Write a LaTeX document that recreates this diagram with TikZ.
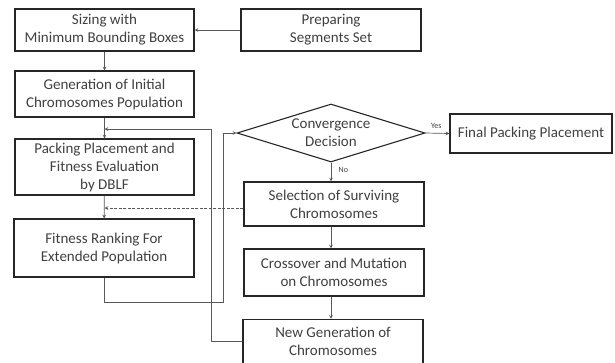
\documentclass[tikz,border=0pt]{standalone}
\usepackage{fontspec}
\setmainfont{Carlito}
\usetikzlibrary{arrows,shapes.geometric}

\begin{document}
\begin{tikzpicture}[x=1pt,y=-1pt,
  proc/.style={draw=black!85,line width=1.1pt,text=black!75,align=center,
    font=\fontsize{15}{18}\selectfont,inner sep=0pt},
  flow/.style={draw=black!65,line width=.7pt,-stealth},
  tag/.style={font=\fontsize{8}{9}\selectfont,text=black!75}]
\useasboundingbox (0,0) rectangle (615,362);

% left column
\node[proc,minimum width=179pt,minimum height=42pt] (sizing) at (104.5,30) {Sizing with\\Minimum Bounding Boxes};
\node[proc,minimum width=180pt,minimum height=42pt] (prep) at (331,30) {Preparing\\Segments Set};
\node[proc,minimum width=179pt,minimum height=46pt] (initgen) at (104.5,94) {Generation of Initial\\Chromosomes Population};
\node[proc,minimum width=179pt,minimum height=56pt] (packing) at (104.5,167) {Packing Placement and\\Fitness Evaluation\\by DBLF};
\node[proc,minimum width=180pt,minimum height=58pt] (ranking) at (104,248) {Fitness Ranking For\\Extended Population};

% right column
\node[proc,diamond,shape aspect=3.2,minimum width=188pt,minimum height=58pt] (decide) at (331,133) {Convergence\\Decision};
\node[proc,minimum width=162pt,minimum height=39pt] (final) at (531,133.5) {Final Packing Placement};
\node[proc,minimum width=180pt,minimum height=44pt] (select) at (334,204) {Selection of Surviving\\Chromosomes};
\node[proc,minimum width=180pt,minimum height=47pt] (cross) at (334,272.5) {Crossover and Mutation\\on Chromosomes};
\node[proc,minimum width=180pt,minimum height=44pt] (newgen) at (333,341.5) {New Generation of\\Chromosomes};

\coordinate (m1) at (104.5,129);
\coordinate (m2) at (104.5,208);
\coordinate (c1) at (223,302);
\coordinate (c2) at (211,129);

\draw[flow] (prep) -- (sizing);
\draw[flow] (sizing) -- (initgen);
\draw[flow] (initgen) -- (packing);
\draw[flow] (packing) -- (ranking);
\draw[flow] (ranking.south) |- (c1) |- (decide.west);
\draw[flow] (newgen.west) -| (c2) -- (m1);
\draw[flow,dash pattern=on 3pt off 1.5pt] (select.west |- m2) -- (m2);
\draw[flow] (decide.east) -- (final.west) node[tag,pos=.45,above=1pt] {Yes};
\draw[flow] (decide.south) -- (decide.south |- select.north) node[tag,pos=.4,right=4pt] {No};
\draw[flow] (decide.south |- select.south) -- (decide.south |- cross.north);
\draw[flow] (decide.south |- cross.south) -- (decide.south |- newgen.north);

\end{tikzpicture}
\end{document}
